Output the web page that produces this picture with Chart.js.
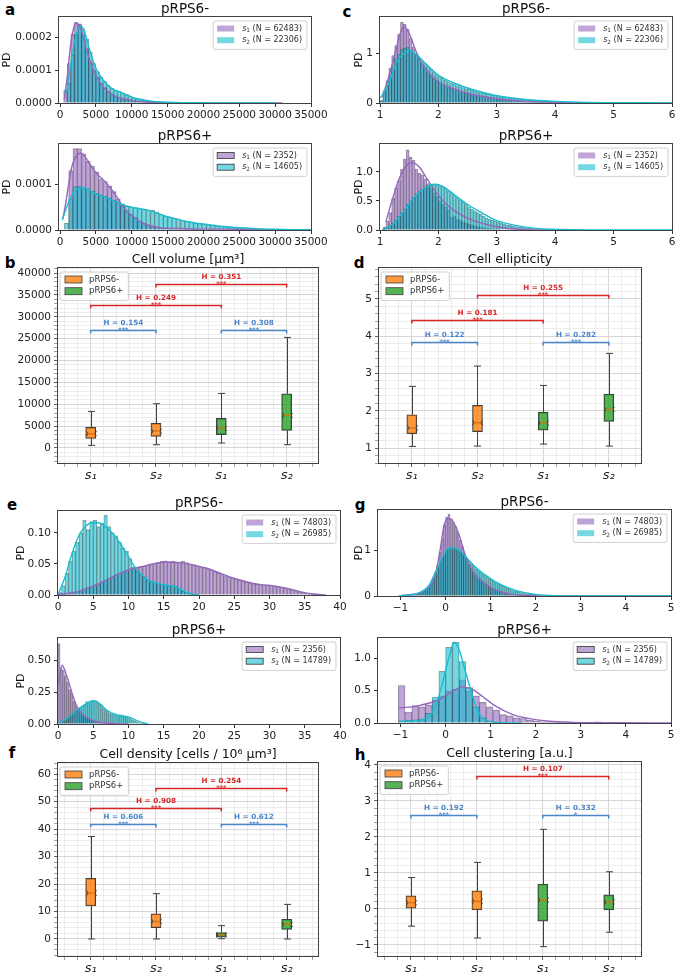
<!DOCTYPE html>
<html>
<head>
<meta charset="utf-8">
<title>pRPS6 cell features</title>
<script src="https://cdn.jsdelivr.net/npm/chart.js@4.4.1/dist/chart.umd.min.js"></script>
<style>
  html, body { margin:0; padding:0; background:#fff; }
  #wrap { position:relative; width:678px; height:974px; overflow:hidden; background:#fff; }
  #wrap canvas { position:absolute; left:0; top:0; }
  .letter { position:absolute; font-family:"DejaVu Sans",sans-serif; font-weight:bold; font-size:15px; line-height:1; color:#000; transform:translate(-50%,-50%); }
</style>
</head>
<body>
<div id="wrap">
  <div class="letter" style="left:10px;top:10px">a</div>
  <div class="letter" style="left:10px;top:263px">b</div>
  <div class="letter" style="left:347px;top:12px">c</div>
  <div class="letter" style="left:359px;top:263px">d</div>
  <div class="letter" style="left:12px;top:505px">e</div>
  <div class="letter" style="left:12px;top:753px">f</div>
  <div class="letter" style="left:360px;top:505px">g</div>
  <div class="letter" style="left:360px;top:755px">h</div>
</div>
<script>
// ======================= DATA =======================
const groupLabels = ['pRPS6-', 'pRPS6+'];
const sampleTicks = ['s\u2081', 's\u2082', 's\u2081', 's\u2082'];

// sample sizes
const volMinusN = [62483, 22306];
const volPlusN  = [2352, 14605];
const denMinusN = [74803, 26985];
const denPlusN  = [2356, 14789];

// ---- a: cell volume histograms (PD in units of 1e-4) ----
const aBinW = 500;
const aTopS1Start = 500;
const aTopS1 = [0.4,1.2,2.1,2.45,2.4,2.05,1.65,1.25,0.98,0.78,0.6,0.46,0.35,0.28,0.22,0.17,0.13,0.11,0.09,0.07,0.06,0.05,0.04,0.03,0.025,0.02,0.015,0.012,0.01,0.008,0.007,0.006,0.005,0.004,0.004,0.003,0.003,0.002,0.002,0.002];
const aTopS2Start = 1000;
const aTopS2 = [0.6,1.45,2.05,2.35,2.25,1.95,1.55,1.2,0.95,0.78,0.65,0.53,0.45,0.39,0.36,0.31,0.26,0.21,0.16,0.13,0.1,0.085,0.07,0.055,0.045,0.037,0.032,0.027,0.022,0.018,0.015,0.012,0.01,0.008,0.007,0.006,0.005,0.004,0.003,0.002];
const aTopS1Kde = [[600,0.1],[1000,0.8],[1500,1.8],[2000,2.35],[2300,2.42],[2700,2.35],[3000,2.2],[3500,1.8],[4000,1.4],[4500,1.1],[5000,0.85],[5500,0.65],[6000,0.5],[6500,0.38],[7000,0.3],[7500,0.23],[8000,0.18],[9000,0.12],[10000,0.08],[11000,0.05],[12000,0.03],[13000,0.02],[15000,0.01],[18000,0.004],[22000,0.002],[26000,0.001],[31000,0]];
const aTopS2Kde = [[900,0.3],[1300,0.9],[1800,1.6],[2300,2.1],[2700,2.3],[3000,2.32],[3500,2.1],[4000,1.7],[4500,1.35],[5000,1.05],[5500,0.85],[6000,0.7],[6500,0.58],[7000,0.48],[7500,0.41],[8000,0.36],[8500,0.32],[9000,0.27],[9500,0.23],[10000,0.18],[11000,0.12],[12000,0.08],[13000,0.05],[14000,0.035],[15000,0.025],[17000,0.012],[20000,0.005],[25000,0.001],[30000,0]];

const aBotBinW = 600;
const aBotS1Start = 1200;
const aBotS1 = [1.3,1.78,1.78,1.66,1.5,1.4,1.27,1.12,1.06,0.96,0.84,0.68,0.52,0.42,0.34,0.27,0.2,0.15,0.11,0.08,0.07,0.05,0.04,0.035,0.03,0.03,0.025,0.02,0.02,0.02,0.02,0.02,0.015,0.015,0.01,0.01,0.01,0.008,0.005,0.004];
const aBotS2Start = 600;
const aBotS2 = [0.15,0.68,0.95,0.95,0.94,0.9,0.85,0.8,0.76,0.74,0.7,0.65,0.6,0.57,0.53,0.5,0.48,0.47,0.46,0.44,0.43,0.39,0.35,0.3,0.28,0.26,0.24,0.21,0.19,0.17,0.15,0.14,0.13,0.12,0.1,0.09,0.085,0.075,0.065,0.058,0.05,0.045,0.04,0.034,0.03,0.026,0.022,0.018,0.015,0.013,0.011,0.009,0.008,0.007,0.005,0.004];
const aBotS1Kde = [[400,0.25],[800,0.6],[1200,1.0],[1600,1.35],[2000,1.55],[2500,1.66],[3000,1.68],[3500,1.6],[4000,1.48],[4500,1.36],[5000,1.25],[5500,1.17],[6000,1.1],[6500,1.02],[7000,0.92],[7500,0.82],[8000,0.7],[8500,0.57],[9000,0.46],[9500,0.38],[10000,0.32],[11000,0.2],[12000,0.12],[13000,0.08],[14000,0.05],[15000,0.04],[17000,0.03],[20000,0.02],[23000,0.02],[26000,0.015],[30000,0.008],[35000,0.002]];
const aBotS2Kde = [[300,0.22],[800,0.45],[1300,0.65],[1800,0.8],[2300,0.88],[3000,0.93],[3500,0.92],[4000,0.88],[4500,0.83],[5000,0.79],[5500,0.77],[6000,0.74],[6500,0.71],[7000,0.67],[7500,0.64],[8000,0.61],[8500,0.57],[9000,0.54],[10000,0.5],[11000,0.47],[12000,0.44],[13000,0.4],[14000,0.34],[15000,0.29],[16000,0.25],[17000,0.21],[18000,0.18],[19000,0.15],[20000,0.13],[21000,0.11],[22000,0.09],[23000,0.075],[24000,0.06],[25000,0.05],[27000,0.03],[30000,0.015],[33000,0.007],[35000,0.003]];

// ---- c: cell ellipticity histograms ----
const cBinW = 0.05;
const cTopStart = 1.0;
const cTopS1 = [0.05,0.25,0.45,0.7,0.95,1.15,1.38,1.62,1.58,1.48,1.3,1.12,0.98,0.88,0.77,0.68,0.6,0.54,0.48,0.44,0.41,0.37,0.34,0.31,0.29,0.27,0.25,0.23,0.21,0.19,0.18,0.165,0.15,0.14,0.13,0.12,0.11,0.1,0.095,0.09,0.08,0.075,0.07,0.065,0.06,0.055,0.05,0.045,0.04,0.037,0.034,0.031,0.028,0.025,0.022,0.02,0.018,0.016,0.014,0.013];
const cTopS2 = [0.05,0.2,0.35,0.55,0.72,0.88,0.98,1.08,1.1,1.12,1.06,1.0,0.95,0.9,0.84,0.79,0.73,0.68,0.62,0.57,0.53,0.5,0.46,0.43,0.4,0.38,0.35,0.33,0.31,0.29,0.28,0.26,0.24,0.22,0.21,0.2,0.18,0.17,0.16,0.15,0.14,0.13,0.12,0.115,0.105,0.1,0.09,0.085,0.08,0.075,0.07,0.062,0.058,0.052,0.048,0.044,0.04,0.037,0.034,0.031];
const cTopS1Kde = [[1.04,0.12],[1.15,0.52],[1.27,1.05],[1.35,1.4],[1.41,1.53],[1.5,1.39],[1.61,1.05],[1.72,0.79],[1.9,0.52],[2.01,0.42],[2.24,0.29],[2.58,0.17],[2.98,0.09],[3.49,0.035],[4.0,0.013],[4.86,0.003],[6,0]];
const cTopS2Kde = [[1.01,0.1],[1.15,0.39],[1.3,0.85],[1.44,1.02],[1.5,1.05],[1.64,0.95],[1.78,0.79],[2.01,0.55],[2.29,0.39],[2.58,0.27],[2.98,0.15],[3.49,0.07],[4.0,0.033],[4.57,0.013],[5.43,0.005],[6,0.002]];
const cBotStart = 1.05;
const cBotS1 = [0.05,0.15,0.3,0.55,0.72,0.85,1.05,1.22,1.38,1.25,1.2,1.05,0.98,0.95,0.88,0.8,0.72,0.64,0.58,0.5,0.44,0.4,0.35,0.22,0.24,0.19,0.16,0.14,0.12,0.1,0.085,0.07,0.06,0.05,0.04,0.03,0.025,0.02,0.015,0.01];
const cBotS2 = [0.02,0.05,0.08,0.12,0.17,0.24,0.3,0.36,0.44,0.5,0.56,0.62,0.66,0.7,0.74,0.77,0.78,0.79,0.78,0.77,0.75,0.72,0.68,0.64,0.6,0.56,0.52,0.48,0.44,0.4,0.36,0.33,0.3,0.27,0.24,0.21,0.19,0.17,0.15,0.13,0.115,0.1,0.09,0.08,0.07,0.06,0.05,0.045,0.04,0.035,0.03,0.025,0.02,0.018,0.015,0.012,0.01,0.008];
const cBotS1Kde = [[1.1,0.14],[1.21,0.52],[1.32,0.86],[1.44,1.09],[1.54,1.16],[1.67,1.09],[1.78,0.92],[1.95,0.66],[2.12,0.46],[2.29,0.32],[2.58,0.17],[2.86,0.086],[3.15,0.03],[3.43,0.01],[4.0,0]];
const cBotS2Kde = [[1.04,0],[1.21,0.09],[1.38,0.29],[1.55,0.52],[1.72,0.69],[1.87,0.78],[1.95,0.79],[2.07,0.75],[2.24,0.63],[2.47,0.46],[2.7,0.32],[2.98,0.17],[3.32,0.08],[3.72,0.023],[4.29,0.006],[5,0.001],[6,0]];

// ---- e: cell density histograms ----
const eTopBinW = 0.5;
const eTopStart = 0;
const eTopS1 = [0.001,0.002,0.003,0.004,0.005,0.006,0.008,0.01,0.012,0.014,0.016,0.018,0.021,0.024,0.027,0.029,0.032,0.035,0.037,0.04,0.042,0.044,0.045,0.046,0.047,0.048,0.05,0.051,0.052,0.054,0.055,0.053,0.054,0.052,0.053,0.054,0.052,0.05,0.049,0.047,0.045,0.044,0.042,0.04,0.038,0.035,0.033,0.031,0.029,0.027,0.025,0.024,0.022,0.021,0.019,0.018,0.017,0.017,0.016,0.016,0.015,0.014,0.013,0.012,0.011,0.01,0.008,0.007,0.005,0.004,0.003,0.002,0.001,0.001,0.0005];
const eTopS2 = [0.004,0.015,0.035,0.055,0.07,0.085,0.1,0.12,0.105,0.118,0.12,0.11,0.115,0.128,0.11,0.1,0.095,0.085,0.075,0.07,0.058,0.045,0.038,0.033,0.028,0.024,0.022,0.02,0.018,0.017,0.016,0.015,0.016,0.014,0.01,0.006,0.004,0.002,0.001,0.0005];
const eTopS1Kde = [[0,0.001],[2.7,0.005],[5,0.0145],[6.9,0.024],[8.8,0.035],[10.2,0.041],[11.7,0.045],[13.5,0.05],[15.4,0.053],[17.3,0.052],[19.2,0.048],[21.1,0.043],[23,0.035],[24.9,0.027],[26.7,0.0215],[28.6,0.017],[30.5,0.0145],[32.4,0.011],[34.3,0.0054],[36.2,0.0016],[38,0]];
const eTopS2Kde = [[0.1,0.003],[1.04,0.03],[2,0.067],[2.9,0.094],[3.9,0.11],[4.8,0.116],[5.75,0.116],[6.7,0.11],[7.9,0.097],[9.1,0.078],[10,0.062],[10.7,0.048],[11.7,0.035],[12.8,0.024],[14,0.019],[15.2,0.016],[16.4,0.0145],[17.1,0.011],[18.3,0.004],[19.2,0.001],[20,0]];
const eBotBinW = 0.3;
const eBotStart = 0;
const eBotS1 = [0.63,0.44,0.42,0.38,0.33,0.27,0.24,0.18,0.15,0.12,0.09,0.075,0.06,0.05,0.04,0.03,0.025,0.02,0.018,0.015,0.012,0.01,0.008,0.006,0.005,0.004,0.003,0.002];
const eBotS2 = [0.005,0.01,0.02,0.03,0.04,0.06,0.07,0.09,0.1,0.12,0.13,0.14,0.15,0.175,0.165,0.17,0.185,0.18,0.17,0.16,0.15,0.125,0.11,0.1,0.085,0.08,0.075,0.07,0.065,0.065,0.06,0.055,0.055,0.045,0.04,0.03,0.025,0.015,0.01,0.006,0.003,0.002];
const eBotS1Kde = [[0.1,0.32],[0.57,0.46],[1.27,0.37],[2,0.24],[2.7,0.135],[3.6,0.07],[4.6,0.036],[5.5,0.018],[6.9,0.008],[8.3,0.003],[10,0]];
const eBotS2Kde = [[0.1,0.01],[1.3,0.044],[2.7,0.11],[3.9,0.156],[4.8,0.18],[5.3,0.18],[6,0.156],[6.9,0.11],[8.1,0.078],[9.3,0.0625],[10.2,0.052],[11.2,0.026],[12.1,0.008],[12.8,0]];

// ---- g: cell clustering histograms ----
const gTopBinW = 0.05;
const gTopStart = -1.0;
const gTopS1 = [0.01,0.012,0.015,0.02,0.025,0.03,0.04,0.05,0.065,0.08,
  0.1,0.12,0.18,0.25,0.35,0.48,0.68,0.95,1.25,1.55,
  1.72,1.78,1.68,1.6,1.52,1.38,1.22,1.08,0.92,0.8,
  0.68,0.58,0.5,0.44,0.39,0.34,0.3,0.26,0.23,0.2,
  0.17,0.15,0.13,0.11,0.095,0.08,0.065,0.055,0.045,0.038,
  0.03,0.025,0.02,0.016,0.013,0.01,0.008,0.006,0.005,0.004];
const gTopS2 = [0,0.005,0.01,0.015,0.02,0.03,0.04,0.05,0.065,0.085,
  0.11,0.15,0.2,0.27,0.4,0.52,0.62,0.72,0.82,0.9,
  1.0,1.04,1.06,1.05,1.03,1.0,0.96,0.91,0.86,0.8,
  0.76,0.7,0.65,0.6,0.56,0.52,0.48,0.45,0.42,0.38,
  0.35,0.32,0.29,0.26,0.23,0.21,0.19,0.17,0.15,0.13,
  0.115,0.1,0.09,0.075,0.065,0.055,0.047,0.04,0.034,0.029,
  0.024,0.02,0.016,0.013,0.01,0.008,0.006,0.005,0.004,0.003];
const gTopS1Kde = [[-0.96,0.015],[-0.59,0.066],[-0.37,0.2],[-0.22,0.49],[-0.11,1.07],[-0.04,1.51],[0.04,1.69],[0.11,1.68],[0.19,1.58],[0.3,1.33],[0.45,0.85],[0.59,0.56],[0.74,0.38],[0.96,0.21],[1.19,0.1],[1.48,0.036],[1.93,0.007],[2.5,0],[5,0]];
const gTopS2Kde = [[-1.04,0],[-0.59,0.066],[-0.37,0.23],[-0.22,0.53],[-0.07,0.85],[0.07,1.04],[0.19,1.05],[0.3,1.0],[0.48,0.82],[0.67,0.62],[0.89,0.45],[1.11,0.31],[1.34,0.2],[1.63,0.1],[2.0,0.036],[2.45,0.007],[3,0],[5,0]];
const gBotBinW = 0.15;
const gBotStart = -1.05;
const gBotS1 = [0.58,0.17,0.27,0.25,0.28,0.36,0.42,0.5,0.52,0.67,0.5,0.42,0.32,0.25,0.2,0.13,0.11,0.08,0.07,0.04,0.03,0.02,0.015,0.01,0.01,0.01,0.008,0.005,0.005,0.02,0.005,0.004,0.004,0.01];
const gBotS2 = [0.03,0.04,0.05,0.06,0.15,0.4,0.8,1.17,1.25,0.95,0.55,0.25,0.08,0.03,0.008,0.003];
const gBotS1Kde = [[-1.04,0.23],[-0.59,0.27],[-0.15,0.36],[0.15,0.49],[0.37,0.56],[0.6,0.52],[0.82,0.41],[1.11,0.26],[1.49,0.13],[1.86,0.067],[2.3,0.026],[2.82,0.01],[3.56,0.005],[5,0]];
const gBotS2Kde = [[-1.04,0.026],[-0.59,0.04],[-0.37,0.1],[-0.22,0.26],[-0.07,0.62],[0.08,1.03],[0.19,1.25],[0.3,1.13],[0.45,0.77],[0.6,0.41],[0.74,0.15],[0.89,0.05],[1.11,0.01],[1.7,0]];

// ---- box plots: order s1(-), s2(-), s1(+), s2(+) ----
const volLo  = [600, 750, 1140, 750];
const volQ1  = [2200, 2650, 3040, 4020];
const volMed = [3270, 3880, 4480, 7450];
const volQ3  = [4710, 5620, 6770, 12410];
const volHi  = [8370, 10130, 12480, 25280];
const volTests = [[0,1,26880,'0.154','***','in'],[2,3,26880,'0.308','***','in'],[0,2,32750,'0.249','***','x'],[1,3,37550,'0.351','***','x']];

const ellLo  = [1.045, 1.054, 1.107, 1.054];
const ellQ1  = [1.385, 1.44, 1.483, 1.716];
const ellMed = [1.537, 1.68, 1.671, 2.038];
const ellQ3  = [1.895, 2.145, 1.966, 2.45];
const ellHi  = [2.655, 3.2, 2.68, 3.54];
const ellTests = [[0,1,3.835,'0.122','***','in'],[2,3,3.835,'0.282','***','in'],[0,2,4.425,'0.181','***','x'],[1,3,5.097,'0.255','***','x']];

const denLo  = [0, 0, 0.1, 0];
const denQ1  = [12.0, 4.1, 0.7, 3.5];
const denMed = [16.7, 6.4, 1.45, 5.3];
const denQ3  = [22.1, 9.2, 2.3, 7.2];
const denHi  = [37.3, 16.5, 4.85, 12.6];
const denTests = [[0,1,41.8,'0.606','***','in'],[2,3,41.8,'0.612','***','in'],[0,2,47.7,'0.908','***','x'],[1,3,54.9,'0.254','***','x']];

const cluLo  = [-0.48, -0.81, -1.05, -0.65];
const cluQ1  = [0.02, -0.03, -0.34, -0.03];
const cluMed = [0.17, 0.21, 0.24, 0.19];
const cluQ3  = [0.36, 0.5, 0.69, 0.39];
const cluHi  = [0.87, 1.29, 2.21, 1.03];
const cluTests = [[0,1,2.61,'0.192','***','in'],[2,3,2.61,'0.332','*','in'],[1,3,3.69,'0.107','***','x']];

// ======================= STYLE / HELPERS =======================
const FAM = 'DejaVu Sans';
const cf = (size, weight, style) => (style || 'normal') + ' ' + (weight || 'normal') + ' ' + size + 'px "' + FAM + '"';
const PURPLE = '#9467bd', CYAN = '#17becf';
const PURPLE_FILL = 'rgba(148,103,189,0.6)', CYAN_FILL = 'rgba(23,190,207,0.6)';
const ORANGE_FILL = 'rgba(255,127,14,0.8)', GREEN_FILL = 'rgba(44,160,44,0.8)';
const HIST_EDGE = 'rgba(20,20,20,0.42)';
const BOX_EDGE = '#3f3f3f';
const TEST_COL = { in: '#4a86c8', x: '#d62728' };
const TICK_COL = '#222';

function bins(start, width, heights) {
  return heights.map((h, i) => ({ x: Math.round((start + (i + 0.5) * width) * 1e6) / 1e6, y: h }));
}
function pts(pairs) { return pairs.map(p => ({ x: p[0], y: p[1] })); }
function onStep(v, step) { const r = v / step; return Math.abs(r - Math.round(r)) < 1e-6; }
function minus(s) { return String(s).replace('-', '\u2212'); }
function labeler(step, fmt) {
  return function (v) { return onStep(v, step) ? fmt(Math.round(v / step) * step) : ''; };
}
// tick positions at every multiple of `step` inside the axis range
function stepTicks(step) {
  return function (s) {
    const out = [];
    const k0 = Math.ceil(s.min / step - 1e-9), k1 = Math.floor(s.max / step + 1e-9);
    for (let k = k0; k <= k1; k++) out.push({ value: Math.round(k * step * 1e9) / 1e9 });
    s.ticks = out;
  };
}

const wrap = document.getElementById('wrap');
function newCtx() {
  const c = document.createElement('canvas');
  c.width = 678; c.height = 974;
  c.style.width = '678px'; c.style.height = '974px';
  wrap.appendChild(c);
  return c.getContext('2d');
}

function drawSText(ctx, x, y, sub, rest, size) {
  ctx.textAlign = 'left'; ctx.textBaseline = 'middle';
  ctx.font = cf(size, 'normal', 'italic');
  ctx.fillText('s', x, y);
  let w = ctx.measureText('s').width;
  ctx.font = cf(size * 0.72);
  ctx.fillText(sub, x + w, y + size * 0.28);
  w += ctx.measureText(sub).width;
  ctx.font = cf(size);
  ctx.fillText(' ' + rest, x + w, y);
  w += ctx.measureText(' ' + rest).width;
  return w;
}
function measureSText(ctx, sub, rest, size) {
  ctx.font = cf(size, 'normal', 'italic'); let w = ctx.measureText('s').width;
  ctx.font = cf(size * 0.72); w += ctx.measureText(sub).width;
  ctx.font = cf(size); w += ctx.measureText(' ' + rest).width;
  return w;
}
function roundRect(ctx, x, y, w, h, r) {
  ctx.beginPath();
  ctx.moveTo(x + r, y); ctx.lineTo(x + w - r, y); ctx.quadraticCurveTo(x + w, y, x + w, y + r);
  ctx.lineTo(x + w, y + h - r); ctx.quadraticCurveTo(x + w, y + h, x + w - r, y + h);
  ctx.lineTo(x + r, y + h); ctx.quadraticCurveTo(x, y + h, x, y + h - r);
  ctx.lineTo(x, y + r); ctx.quadraticCurveTo(x, y, x + r, y);
  ctx.closePath();
}

function panelPlugin(spec) {
  return {
    id: 'panel',
    afterDatasetsDraw(chart) {
      const ctx = chart.ctx, a = chart.chartArea, xs = chart.scales.x, ys = chart.scales.y;
      ctx.save();
      // ---- box whiskers, medians, notches ----
      if (spec.box) {
        const b = spec.box;
        for (let i = 0; i < b.med.length; i++) {
          const cx = Math.round(xs.getPixelForValue(i)) + 0.5;
          const yLo = ys.getPixelForValue(b.lo[i]), yQ1 = ys.getPixelForValue(b.q1[i]);
          const yMed = ys.getPixelForValue(b.med[i]), yQ3 = ys.getPixelForValue(b.q3[i]);
          const yHi = ys.getPixelForValue(b.hi[i]);
          ctx.strokeStyle = BOX_EDGE; ctx.lineWidth = 1;
          ctx.beginPath();
          ctx.moveTo(cx, yQ1); ctx.lineTo(cx, yLo);
          ctx.moveTo(cx, yQ3); ctx.lineTo(cx, yHi);
          ctx.moveTo(cx - 3.5, yLo); ctx.lineTo(cx + 3.5, yLo);
          ctx.moveTo(cx - 3.5, yHi); ctx.lineTo(cx + 3.5, yHi);
          ctx.stroke();
          const hw = 5;
          ctx.beginPath();
          ctx.moveTo(cx - hw, yMed - 2.5); ctx.lineTo(cx - hw + 1.5, yMed); ctx.lineTo(cx - hw, yMed + 2.5);
          ctx.moveTo(cx + hw, yMed - 2.5); ctx.lineTo(cx + hw - 1.5, yMed); ctx.lineTo(cx + hw, yMed + 2.5);
          ctx.stroke();
          ctx.strokeStyle = '#d8700f'; ctx.lineWidth = 1.3;
          ctx.beginPath(); ctx.moveTo(cx - hw + 1.5, yMed); ctx.lineTo(cx + hw - 1.5, yMed); ctx.stroke();
        }
      }
      // ---- frame ----
      ctx.strokeStyle = '#404040'; ctx.lineWidth = 1;
      ctx.strokeRect(Math.round(a.left) - 0.5, Math.round(a.top) - 0.5, Math.round(a.right - a.left) + 1, Math.round(a.bottom - a.top) + 1);
      // ---- significance brackets ----
      if (spec.tests) {
        for (const t of spec.tests) {
          const x1 = xs.getPixelForValue(t[0]), x2 = xs.getPixelForValue(t[1]);
          const y = Math.round(ys.getPixelForValue(t[2])) + 0.5;
          const col = TEST_COL[t[5]];
          ctx.strokeStyle = col; ctx.lineWidth = 1.5;
          ctx.beginPath(); ctx.moveTo(x1, y + 3); ctx.lineTo(x1, y); ctx.lineTo(x2, y); ctx.lineTo(x2, y + 3); ctx.stroke();
          ctx.fillStyle = col; ctx.textAlign = 'center'; ctx.textBaseline = 'alphabetic';
          ctx.font = cf(7.2, 'bold');
          ctx.fillText('H = ' + t[3], (x1 + x2) / 2, y - 6);
          ctx.font = cf(6.5, 'bold');
          ctx.fillText(t[4], (x1 + x2) / 2, y + 1.5);
        }
      }
      // ---- legend ----
      const bars = chart.data.datasets.filter(d => d.type === 'bar' || !d.type);
      if (spec.legend === 'hist') {
        const fs = 8;
        const widths = bars.map(d => measureSText(ctx, d.sub, d.rest, fs));
        const bw = 4 + 17 + 8 + Math.max.apply(null, widths) + 5;
        const bh = 4 + bars.length * 11.7 + 1;
        const bx = a.right - 4 - bw, by = a.top + 4;
        roundRect(ctx, bx, by, bw, bh, 2);
        ctx.fillStyle = 'rgba(255,255,255,0.85)'; ctx.fill();
        ctx.strokeStyle = '#d0d0d0'; ctx.lineWidth = 1; ctx.stroke();
        bars.forEach((d, k) => {
          const ry = by + 7.5 + k * 11.7;
          ctx.fillStyle = d.backgroundColor;
          ctx.fillRect(bx + 4, ry - 3, 17, 6);
          if (spec.legendEdge) { ctx.strokeStyle = '#333'; ctx.lineWidth = 0.8; ctx.strokeRect(bx + 4, ry - 3, 17, 6); }
          ctx.fillStyle = '#333';
          drawSText(ctx, bx + 29, ry, d.sub, d.rest, fs);
        });
      } else if (spec.legend === 'box') {
        const fs = 8.5;
        ctx.font = cf(fs);
        const tw = Math.max.apply(null, bars.map(d => ctx.measureText(d.label).width));
        const bw = 5 + 17 + 7 + tw + 5;
        const bh = 4 + bars.length * 11.7 + 1;
        const bx = a.left + 2, by = a.top + 4;
        roundRect(ctx, bx, by, bw, bh, 2);
        ctx.fillStyle = 'rgba(255,255,255,0.85)'; ctx.fill();
        ctx.strokeStyle = '#d0d0d0'; ctx.lineWidth = 1; ctx.stroke();
        bars.forEach((d, k) => {
          const ry = by + 7.5 + k * 11.7;
          ctx.fillStyle = d.backgroundColor;
          ctx.fillRect(bx + 5, ry - 3.5, 17, 7);
          ctx.strokeStyle = BOX_EDGE; ctx.lineWidth = 0.8; ctx.strokeRect(bx + 5, ry - 3.5, 17, 7);
          ctx.fillStyle = '#333'; ctx.font = cf(fs); ctx.textAlign = 'left'; ctx.textBaseline = 'middle';
          ctx.fillText(d.label, bx + 29, ry);
        });
      }
      // ---- title ----
      ctx.fillStyle = '#111'; ctx.textAlign = 'center'; ctx.textBaseline = 'middle';
      ctx.font = cf(spec.titleSize);
      ctx.fillText(spec.title, (a.left + a.right) / 2, a.top - 8);
      // ---- y label ----
      if (spec.pdX != null) {
        ctx.save();
        ctx.translate(spec.pdX, (a.top + a.bottom) / 2);
        ctx.rotate(-Math.PI / 2);
        ctx.font = cf(11); ctx.fillStyle = '#111'; ctx.textAlign = 'center'; ctx.textBaseline = 'middle';
        ctx.fillText('PD', 0, 0);
        ctx.restore();
      }
      ctx.restore();
    }
  };
}

const Y_W = 50, X_H = 22;
function layoutPad(r) {
  return { left: r.L - Y_W, top: r.T, right: 678 - r.R, bottom: 974 - r.B - X_H };
}

function histChart(o) {
  const ctx = newCtx();
  const datasets = [
    { type: 'line', data: pts(o.k1), borderColor: PURPLE, borderWidth: 1.4, pointRadius: 0, fill: false, cubicInterpolationMode: 'monotone', order: 1 },
    { type: 'line', data: pts(o.k2), borderColor: CYAN, borderWidth: 1.4, pointRadius: 0, fill: false, cubicInterpolationMode: 'monotone', order: 0 },
    { type: 'bar', label: 's\u2081 (N = ' + o.n[0] + ')', sub: '1', rest: '(N = ' + o.n[0] + ')', data: bins(o.st1, o.w, o.h1),
      backgroundColor: PURPLE_FILL, borderColor: HIST_EDGE, borderWidth: 0.5, grouped: false, barPercentage: 1, categoryPercentage: 1, order: 3 },
    { type: 'bar', label: 's\u2082 (N = ' + o.n[1] + ')', sub: '2', rest: '(N = ' + o.n[1] + ')', data: bins(o.st2, o.w, o.h2),
      backgroundColor: CYAN_FILL, borderColor: HIST_EDGE, borderWidth: 0.5, grouped: false, barPercentage: 1, categoryPercentage: 1, order: 2 }
  ];
  return new Chart(ctx, {
    type: 'bar',
    data: { datasets },
    plugins: [panelPlugin({ title: o.title, titleSize: 13.5, pdX: o.pdX, legend: 'hist', legendEdge: o.edge })],
    options: {
      responsive: false, animation: false, devicePixelRatio: 1, events: [],
      layout: { padding: layoutPad(o.rect) },
      plugins: { legend: { display: false }, tooltip: { enabled: false }, title: { display: false } },
      scales: {
        x: {
          type: 'linear', min: o.xr[0], max: o.xr[1], offset: false,
          afterFit: s => { s.height = X_H; },
          afterBuildTicks: stepTicks(o.xStep),
          border: { display: false },
          grid: { offset: false, drawOnChartArea: false, drawTicks: true, tickLength: 4, tickColor: '#333' },
          ticks: { autoSkip: false, maxRotation: 0, minRotation: 0, padding: 2,
            color: TICK_COL, font: { family: FAM, size: 10.5 }, callback: labeler(o.xStep, o.xFmt) }
        },
        y: {
          type: 'linear', min: 0, max: o.yMax,
          afterFit: s => { s.width = Y_W; },
          afterBuildTicks: stepTicks(o.yStep),
          border: { display: false },
          grid: { drawOnChartArea: false, drawTicks: true, tickLength: 4, tickColor: '#333' },
          ticks: { autoSkip: false, padding: 3,
            color: TICK_COL, font: { family: FAM, size: 10.5 }, callback: labeler(o.yStep, o.yFmt) }
        }
      }
    }
  });
}

function boxChart(o) {
  const ctx = newCtx();
  const datasets = [
    { type: 'bar', label: groupLabels[0], data: [0, 1].map(i => ({ x: i, y: [o.q1[i], o.q3[i]] })),
      backgroundColor: ORANGE_FILL, borderColor: BOX_EDGE, borderWidth: 1, borderSkipped: false, barThickness: 10, grouped: false },
    { type: 'bar', label: groupLabels[1], data: [2, 3].map(i => ({ x: i, y: [o.q1[i], o.q3[i]] })),
      backgroundColor: GREEN_FILL, borderColor: BOX_EDGE, borderWidth: 1, borderSkipped: false, barThickness: 10, grouped: false }
  ];
  const MAJ = '#cccccc', MIN = '#e9e9e9';
  return new Chart(ctx, {
    type: 'bar',
    data: { datasets },
    plugins: [panelPlugin({ title: o.title, titleSize: 12.5, pdX: null, legend: 'box', tests: o.tests,
      box: { lo: o.lo, q1: o.q1, med: o.med, q3: o.q3, hi: o.hi } })],
    options: {
      responsive: false, animation: false, devicePixelRatio: 1, events: [],
      layout: { padding: layoutPad(o.rect) },
      plugins: { legend: { display: false }, tooltip: { enabled: false }, title: { display: false } },
      scales: {
        x: {
          type: 'linear', min: -0.5, max: o.xMax, offset: false,
          afterFit: s => { s.height = X_H; },
          afterBuildTicks: stepTicks(0.2),
          border: { display: false },
          grid: { offset: false, drawOnChartArea: true, drawTicks: true, tickLength: 4, lineWidth: 0.8,
            color: c => (c.tick && onStep(c.tick.value, 1)) ? MAJ : MIN,
            tickColor: c => (c.tick && onStep(c.tick.value, 1)) ? '#333' : '#888' },
          ticks: { autoSkip: false, maxRotation: 0, minRotation: 0, padding: 1,
            color: TICK_COL, font: { family: FAM, size: 13, style: 'italic' },
            callback: v => (onStep(v, 1) && v > -0.5) ? sampleTicks[Math.round(v)] : '' }
        },
        y: {
          type: 'linear', min: o.yr[0], max: o.yr[1],
          afterFit: s => { s.width = Y_W; },
          afterBuildTicks: stepTicks(o.minor),
          border: { display: false },
          grid: { drawOnChartArea: true, drawTicks: true, tickLength: 4, lineWidth: 0.8,
            color: c => (c.tick && onStep(c.tick.value, o.major)) ? MAJ : MIN,
            tickColor: c => (c.tick && onStep(c.tick.value, o.major)) ? '#333' : '#888' },
          ticks: { autoSkip: false, padding: 3,
            color: TICK_COL, font: { family: FAM, size: 10.5 }, callback: labeler(o.major, o.yFmt) }
        }
      }
    }
  });
}

const intFmt = v => minus(String(Math.round(v)));
const volFmt = v => (v * 1e-4).toFixed(4);

// ---------- a ----------
histChart({ rect: { L: 59, R: 311, T: 17, B: 103 }, title: 'pRPS6-', pdX: 7, n: volMinusN, edge: false,
  w: aBinW, st1: aTopS1Start, h1: aTopS1, st2: aTopS2Start, h2: aTopS2, k1: aTopS1Kde, k2: aTopS2Kde,
  xr: [-150, 35000], xStep: 5000, xFmt: intFmt, yMax: 2.61, yStep: 1, yFmt: volFmt });
histChart({ rect: { L: 59, R: 311, T: 144, B: 230 }, title: 'pRPS6+', pdX: 7, n: volPlusN, edge: true,
  w: aBotBinW, st1: aBotS1Start, h1: aBotS1, st2: aBotS2Start, h2: aBotS2, k1: aBotS1Kde, k2: aBotS2Kde,
  xr: [-150, 35000], xStep: 5000, xFmt: intFmt, yMax: 1.88, yStep: 1, yFmt: volFmt });
// ---------- c ----------
histChart({ rect: { L: 380, R: 672, T: 17, B: 103 }, title: 'pRPS6-', pdX: 359, n: volMinusN, edge: false,
  w: cBinW, st1: cTopStart, h1: cTopS1, st2: cTopStart, h2: cTopS2, k1: cTopS1Kde, k2: cTopS2Kde,
  xr: [1, 6], xStep: 1, xFmt: intFmt, yMax: 1.72, yStep: 1, yFmt: intFmt });
histChart({ rect: { L: 380, R: 672, T: 144, B: 230 }, title: 'pRPS6+', pdX: 359, n: volPlusN, edge: false,
  w: cBinW, st1: cBotStart, h1: cBotS1, st2: cBotStart, h2: cBotS2, k1: cBotS1Kde, k2: cBotS2Kde,
  xr: [1, 6], xStep: 1, xFmt: intFmt, yMax: 1.48, yStep: 0.5, yFmt: v => v.toFixed(1) });
// ---------- e ----------
histChart({ rect: { L: 58, R: 340, T: 511, B: 595 }, title: 'pRPS6-', pdX: 21, n: denMinusN, edge: false,
  w: eTopBinW, st1: eTopStart, h1: eTopS1, st2: eTopStart, h2: eTopS2, k1: eTopS1Kde, k2: eTopS2Kde,
  xr: [0, 40], xStep: 5, xFmt: intFmt, yMax: 0.135, yStep: 0.05, yFmt: v => v.toFixed(2) });
histChart({ rect: { L: 58, R: 340, T: 638, B: 724 }, title: 'pRPS6+', pdX: 21, n: denPlusN, edge: true,
  w: eBotBinW, st1: eBotStart, h1: eBotS1, st2: eBotStart, h2: eBotS2, k1: eBotS1Kde, k2: eBotS2Kde,
  xr: [0, 40], xStep: 5, xFmt: intFmt, yMax: 0.674, yStep: 0.25, yFmt: v => v.toFixed(2) });
// ---------- g ----------
histChart({ rect: { L: 378, R: 671, T: 510, B: 596 }, title: 'pRPS6-', pdX: 359, n: denMinusN, edge: false,
  w: gTopBinW, st1: gTopStart, h1: gTopS1, st2: gTopStart, h2: gTopS2, k1: gTopS1Kde, k2: gTopS2Kde,
  xr: [-1.5, 5], xStep: 1, xFmt: intFmt, yMax: 1.875, yStep: 1, yFmt: intFmt });
histChart({ rect: { L: 378, R: 671, T: 638, B: 723 }, title: 'pRPS6+', pdX: null, n: denPlusN, edge: true,
  w: gBotBinW, st1: gBotStart, h1: gBotS1, st2: gBotStart, h2: gBotS2, k1: gBotS1Kde, k2: gBotS2Kde,
  xr: [-1.5, 5], xStep: 1, xFmt: intFmt, yMax: 1.316, yStep: 0.5, yFmt: v => v.toFixed(1) });

// ---------- box plots ----------
boxChart({ rect: { L: 58, R: 318, T: 268, B: 463 }, title: 'Cell volume [\u03bcm\u00b3]', xMax: 3.48,
  lo: volLo, q1: volQ1, med: volMed, q3: volQ3, hi: volHi, tests: volTests,
  yr: [-3430, 41150], minor: 1000, major: 5000, yFmt: intFmt });
boxChart({ rect: { L: 379, R: 641, T: 268, B: 463 }, title: 'Cell ellipticity', xMax: 3.49,
  lo: ellLo, q1: ellQ1, med: ellMed, q3: ellQ3, hi: ellHi, tests: ellTests,
  yr: [0.6, 5.83], minor: 0.2, major: 1, yFmt: intFmt });
boxChart({ rect: { L: 58, R: 318, T: 763, B: 956 }, title: 'Cell density [cells / 10\u2076 \u03bcm\u00b3]', xMax: 3.48,
  lo: denLo, q1: denQ1, med: denMed, q3: denQ3, hi: denHi, tests: denTests,
  yr: [-6.2, 64.1], minor: 2, major: 10, yFmt: intFmt });
boxChart({ rect: { L: 378, R: 641, T: 762, B: 956 }, title: 'Cell clustering [a.u.]', xMax: 3.49,
  lo: cluLo, q1: cluQ1, med: cluMed, q3: cluQ3, hi: cluHi, tests: cluTests,
  yr: [-1.31, 4.08], minor: 0.2, major: 1, yFmt: intFmt });
</script>
</body>
</html>
